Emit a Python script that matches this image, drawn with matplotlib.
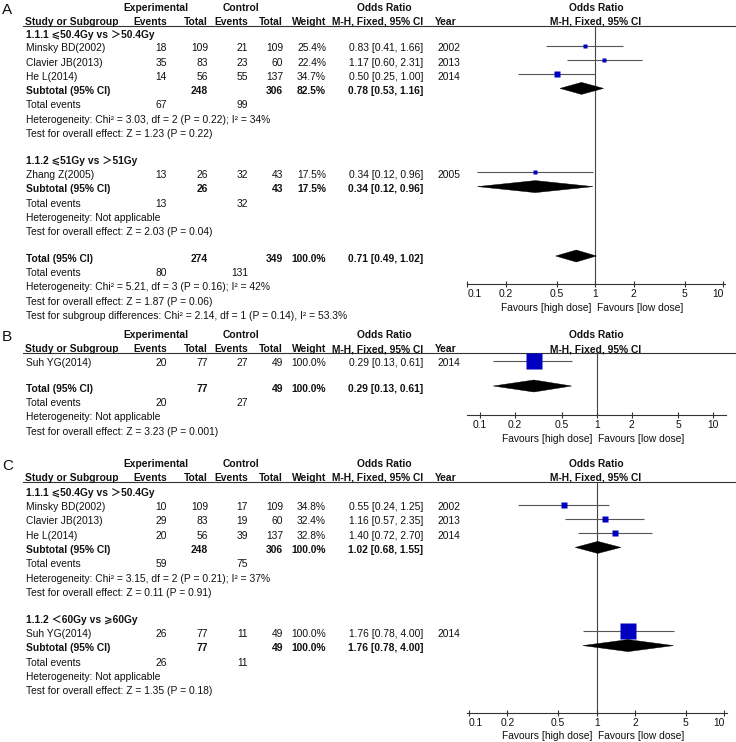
import matplotlib
matplotlib.use("Agg")
import matplotlib.pyplot as plt
from matplotlib.patches import Polygon
from matplotlib.ticker import NullLocator

# ---------------- data ----------------
# Panel A, subgroup 1.1.1
a1_title = "1.1.1 ⩽50.4Gy vs ＞50.4Gy"
a1_studies = ["Minsky BD(2002)", "Clavier JB(2013)", "He L(2014)"]
a1_exp_events = [18, 35, 14]
a1_exp_total = [109, 83, 56]
a1_ctl_events = [21, 23, 55]
a1_ctl_total = [109, 60, 137]
a1_weight = [25.4, 22.4, 34.7]
a1_or = [0.83, 1.17, 0.50]
a1_lo = [0.41, 0.60, 0.25]
a1_hi = [1.66, 2.31, 1.00]
a1_year = [2002, 2013, 2014]
a1_sub_totals = [248, 306]
a1_sub_weight = 82.5
a1_sub_ci = [0.78, 0.53, 1.16]
a1_sub_events = [67, 99]
a1_het = "Heterogeneity: Chi² = 3.03, df = 2 (P = 0.22); I² = 34%"
a1_test = "Test for overall effect: Z = 1.23 (P = 0.22)"

# Panel A, subgroup 1.1.2
a2_title = "1.1.2 ⩽51Gy vs ＞51Gy"
a2_studies = ["Zhang Z(2005)"]
a2_exp_events = [13]
a2_exp_total = [26]
a2_ctl_events = [32]
a2_ctl_total = [43]
a2_weight = [17.5]
a2_or = [0.34]
a2_lo = [0.12]
a2_hi = [0.96]
a2_year = [2005]
a2_sub_totals = [26, 43]
a2_sub_weight = 17.5
a2_sub_ci = [0.34, 0.12, 0.96]
a2_sub_events = [13, 32]
a2_het = "Heterogeneity: Not applicable"
a2_test = "Test for overall effect: Z = 2.03 (P = 0.04)"

# Panel A, overall
a_tot_totals = [274, 349]
a_tot_weight = 100.0
a_tot_ci = [0.71, 0.49, 1.02]
a_tot_events = [80, 131]
a_tot_het = "Heterogeneity: Chi² = 5.21, df = 3 (P = 0.16); I² = 42%"
a_tot_test = "Test for overall effect: Z = 1.87 (P = 0.06)"
a_tot_sub = "Test for subgroup differences: Chi² = 2.14, df = 1 (P = 0.14), I² = 53.3%"

# Panel B
b_studies = ["Suh YG(2014)"]
b_exp_events = [20]
b_exp_total = [77]
b_ctl_events = [27]
b_ctl_total = [49]
b_weight = [100.0]
b_or = [0.29]
b_lo = [0.13]
b_hi = [0.61]
b_year = [2014]
b_tot_totals = [77, 49]
b_tot_weight = 100.0
b_tot_ci = [0.29, 0.13, 0.61]
b_tot_events = [20, 27]
b_het = "Heterogeneity: Not applicable"
b_test = "Test for overall effect: Z = 3.23 (P = 0.001)"

# Panel C, subgroup 1.1.1
c1_title = "1.1.1 ⩽50.4Gy vs ＞50.4Gy"
c1_studies = ["Minsky BD(2002)", "Clavier JB(2013)", "He L(2014)"]
c1_exp_events = [10, 29, 20]
c1_exp_total = [109, 83, 56]
c1_ctl_events = [17, 19, 39]
c1_ctl_total = [109, 60, 137]
c1_weight = [34.8, 32.4, 32.8]
c1_or = [0.55, 1.16, 1.40]
c1_lo = [0.24, 0.57, 0.72]
c1_hi = [1.25, 2.35, 2.70]
c1_year = [2002, 2013, 2014]
c1_sub_totals = [248, 306]
c1_sub_weight = 100.0
c1_sub_ci = [1.02, 0.68, 1.55]
c1_sub_events = [59, 75]
c1_het = "Heterogeneity: Chi² = 3.15, df = 2 (P = 0.21); I² = 37%"
c1_test = "Test for overall effect: Z = 0.11 (P = 0.91)"

# Panel C, subgroup 1.1.2
c2_title = "1.1.2 ＜60Gy vs ⩾60Gy"
c2_studies = ["Suh YG(2014)"]
c2_exp_events = [26]
c2_exp_total = [77]
c2_ctl_events = [11]
c2_ctl_total = [49]
c2_weight = [100.0]
c2_or = [1.76]
c2_lo = [0.78]
c2_hi = [4.00]
c2_year = [2014]
c2_sub_totals = [77, 49]
c2_sub_weight = 100.0
c2_sub_ci = [1.76, 0.78, 4.00]
c2_sub_events = [26, 11]
c2_het = "Heterogeneity: Not applicable"
c2_test = "Test for overall effect: Z = 1.35 (P = 0.18)"

tick_values = [0.1, 0.2, 0.5, 1, 2, 5, 10]
tick_labels = ["0.1", "0.2", "0.5", "1", "2", "5", "10"]
favours_left = "Favours [high dose]"
favours_right = "Favours [low dose]"

# ---------------- layout / style ----------------
W, H = 736, 742
FS = 7.4
P = 14.3
FAM = ['Liberation Sans', 'DejaVu Sans', 'Noto Sans CJK SC']
plt.rcParams['font.family'] = FAM

X_LAB, X_EE, X_ET, X_CE, X_CT, X_W, X_OR, X_YR = 26, 167, 208, 248, 283, 326, 423, 437
SQ_COL = '#0000c0'
LINE_COL = '#555555'
AX_COL = '#333333'

fig = plt.figure(figsize=(W / 100, H / 100), dpi=100)
ax = fig.add_axes([0, 0, 1, 1])
ax.set_xlim(0, W)
ax.set_ylim(H, 0)
ax.axis('off')


def txt(x, y, s, ha='left', bold=False, size=FS):
    ax.text(x, y + 0.36 * size * 100 / 72, s, ha=ha, va='baseline', fontsize=size,
            fontweight='bold' if bold else 'normal', color='#111111')


def header(y1, letter):
    txt(2, y1 + 1.5, letter, size=11)
    txt(156, y1, "Experimental", ha='center', bold=True)
    txt(241, y1, "Control", ha='center', bold=True)
    txt(384, y1, "Odds Ratio", ha='center', bold=True)
    txt(596, y1, "Odds Ratio", ha='center', bold=True)
    y2 = y1 + P
    txt(25, y2, "Study or Subgroup", bold=True)
    txt(X_EE, y2, "Events", ha='right', bold=True)
    txt(X_ET, y2, "Total", ha='right', bold=True)
    txt(X_CE, y2, "Events", ha='right', bold=True)
    txt(X_CT, y2, "Total", ha='right', bold=True)
    txt(X_W, y2, "Weight", ha='right', bold=True)
    txt(X_OR, y2, "M-H, Fixed, 95% CI", ha='right', bold=True)
    txt(435, y2, "Year", bold=True)
    txt(596, y2, "M-H, Fixed, 95% CI", ha='center', bold=True)
    yl = y2 + 4.3
    ax.plot([23, 735], [yl, yl], color=AX_COL, lw=0.8)
    return yl


def forest_axes(ytop, ybot, xl, xr, p01, p10, yfav, inner_end_labels):
    a = fig.add_axes([xl / W, 1 - ybot / H, (xr - xl) / W, (ybot - ytop) / H])
    ppd = (p10 - p01) / 2.0
    c = (p01 + p10) / 2.0
    a.set_xscale('log')
    a.set_xlim(10 ** ((xl - c) / ppd), 10 ** ((xr - c) / ppd))
    a.set_ylim(ybot, ytop)
    a.patch.set_alpha(0)
    for s in ['top', 'left', 'right']:
        a.spines[s].set_visible(False)
    a.spines['bottom'].set_color(AX_COL)
    a.spines['bottom'].set_linewidth(0.8)
    a.set_xticks(tick_values)
    a.set_xticklabels(tick_labels)
    a.xaxis.set_minor_locator(NullLocator())
    a.tick_params(axis='x', direction='inout', length=4.8, width=0.8, color=AX_COL,
                  labelsize=FS, pad=1.2, labelcolor='#111111')
    if inner_end_labels:
        labs = a.get_xticklabels()
        labs[0].set_horizontalalignment('left')
        labs[-1].set_horizontalalignment('right')
    a.set_yticks([])
    a.axvline(1, color='#444444', lw=0.8, zorder=1)
    txt(c - 4, yfav, favours_left, ha='right')
    txt(c + 1.5, yfav, favours_right, ha='left')
    return a


def fmt_ci(o, l, h):
    return f"{o:.2f} [{l:.2f}, {h:.2f}]"


def study_rows(a, y0, names, ee, et, ce, ct, w, o, lo, hi, yr):
    for i, nm in enumerate(names):
        y = y0 + i * P
        txt(X_LAB, y, nm)
        txt(X_EE, y, str(ee[i]), ha='right')
        txt(X_ET, y, str(et[i]), ha='right')
        txt(X_CE, y, str(ce[i]), ha='right')
        txt(X_CT, y, str(ct[i]), ha='right')
        txt(X_W, y, f"{w[i]:.1f}%", ha='right')
        txt(X_OR, y, fmt_ci(o[i], lo[i], hi[i]), ha='right')
        txt(X_YR, y, str(yr[i]))
        ym = y - 2
        a.plot([lo[i], hi[i]], [ym, ym], color=LINE_COL, lw=0.8, solid_capstyle='butt', zorder=2)
        side = max(4.0, 0.158 * w[i])
        a.plot([o[i]], [ym], marker='s', ms=side * 0.72, color=SQ_COL, mec='none',
               linestyle='none', zorder=3, clip_on=False)
    return y0 + len(names) * P


def summary_row(a, y, label, totals, weight, ci):
    txt(X_LAB, y, label, bold=True)
    txt(X_ET, y, str(totals[0]), ha='right', bold=True)
    txt(X_CT, y, str(totals[1]), ha='right', bold=True)
    txt(X_W, y, f"{weight:.1f}%", ha='right', bold=True)
    txt(X_OR, y, fmt_ci(*ci), ha='right', bold=True)
    ym = y - 2
    o, l, h = ci
    a.add_patch(Polygon([(l, ym), (o, ym - 6), (h, ym), (o, ym + 6)], closed=True,
                        facecolor='black', edgecolor='black', lw=0.3, zorder=4, clip_on=False))


def events_row(y, ev):
    txt(X_LAB, y, "Total events")
    txt(X_EE, y, str(ev[0]), ha='right')
    txt(X_CE, y, str(ev[1]), ha='right')


# ---------------- Panel A ----------------
ytopA = header(7, "A")
axA = forest_axes(ytopA, 284, 467, 725, 467.3, 723.3, 307, True)
txt(X_LAB, 33.8, a1_title, bold=True)
y = study_rows(axA, 47.5, a1_studies, a1_exp_events, a1_exp_total, a1_ctl_events,
               a1_ctl_total, a1_weight, a1_or, a1_lo, a1_hi, a1_year)
summary_row(axA, y, "Subtotal (95% CI)", a1_sub_totals, a1_sub_weight, a1_sub_ci)
events_row(y + P, a1_sub_events)
txt(X_LAB, y + 2 * P, a1_het)
txt(X_LAB, y + 3 * P, a1_test)

y = 160.0
txt(X_LAB, y, a2_title, bold=True)
y = study_rows(axA, y + P, a2_studies, a2_exp_events, a2_exp_total, a2_ctl_events,
               a2_ctl_total, a2_weight, a2_or, a2_lo, a2_hi, a2_year)
summary_row(axA, y, "Subtotal (95% CI)", a2_sub_totals, a2_sub_weight, a2_sub_ci)
events_row(y + P, a2_sub_events)
txt(X_LAB, y + 2 * P, a2_het)
txt(X_LAB, y + 3 * P, a2_test)

y = 258.0
summary_row(axA, y, "Total (95% CI)", a_tot_totals, a_tot_weight, a_tot_ci)
events_row(y + P, a_tot_events)
txt(X_LAB, y + 2 * P, a_tot_het)
txt(X_LAB, y + 3 * P, a_tot_test)
txt(X_LAB, y + 4 * P, a_tot_sub)

# ---------------- Panel B ----------------
ytopB = header(334, "B")
axB = forest_axes(ytopB, 415, 467, 726, 480, 713.3, 438, False)
study_rows(axB, 362.5, b_studies, b_exp_events, b_exp_total, b_ctl_events,
           b_ctl_total, b_weight, b_or, b_lo, b_hi, b_year)
y = 388.0
summary_row(axB, y, "Total (95% CI)", b_tot_totals, b_tot_weight, b_tot_ci)
events_row(y + P, b_tot_events)
txt(X_LAB, y + 2 * P, b_het)
txt(X_LAB, y + 3 * P, b_test)

# ---------------- Panel C ----------------
ytopC = header(463, "C")
axC = forest_axes(ytopC, 713, 467, 727, 469, 724.3, 735, True)
txt(X_LAB, 492.5, c1_title, bold=True)
y = study_rows(axC, 506.5, c1_studies, c1_exp_events, c1_exp_total, c1_ctl_events,
               c1_ctl_total, c1_weight, c1_or, c1_lo, c1_hi, c1_year)
summary_row(axC, y, "Subtotal (95% CI)", c1_sub_totals, c1_sub_weight, c1_sub_ci)
events_row(y + P, c1_sub_events)
txt(X_LAB, y + 2 * P, c1_het)
txt(X_LAB, y + 3 * P, c1_test)

y = 619.0
txt(X_LAB, y, c2_title, bold=True)
y = study_rows(axC, y + P, c2_studies, c2_exp_events, c2_exp_total, c2_ctl_events,
               c2_ctl_total, c2_weight, c2_or, c2_lo, c2_hi, c2_year)
summary_row(axC, y, "Subtotal (95% CI)", c2_sub_totals, c2_sub_weight, c2_sub_ci)
events_row(y + P, c2_sub_events)
txt(X_LAB, y + 2 * P, c2_het)
txt(X_LAB, y + 3 * P, c2_test)

fig.savefig("out.png", dpi=100)
